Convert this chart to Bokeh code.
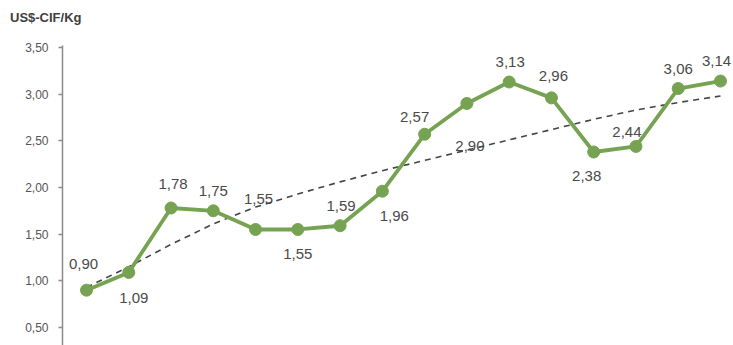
from bokeh.plotting import figure
from bokeh.layouts import column
from bokeh.models import ColumnDataSource, Range1d, FixedTicker, CustomJSTickFormatter, Div
from bokeh.embed import file_html
from bokeh.resources import INLINE
from bokeh.core.properties import value

# ---- data ----
periods = list(range(16))
prices = [0.90, 1.09, 1.78, 1.75, 1.55, 1.55, 1.59, 1.96, 2.57, 2.90, 3.13, 2.96, 2.38, 2.44, 3.06, 3.14]
price_labels = ["0,90", "1,09", "1,78", "1,75", "1,55", "1,55", "1,59", "1,96",
                "2,57", "2,90", "3,13", "2,96", "2,38", "2,44", "3,06", "3,14"]
# dashed trend line at each period
trend = [0.93, 1.15, 1.39, 1.61, 1.79, 1.93, 2.06, 2.18, 2.29, 2.40, 2.51, 2.62, 2.73, 2.83, 2.91, 2.98]
y_ticks = [0.5, 1.0, 1.5, 2.0, 2.5, 3.0, 3.5]
unit_title = "US$-CIF/Kg"

# label placement (pixels, layout only; positive = up)
lab_dx = [-3, 5, 2, 0, 3, 0, 1, 12, -10, 3, 1, 2, -7, -9, 0, -4]
lab_dy = [26, -26, 24, 20, 30, -25, 20, -25, 17, -43, 20, 22, -24, 14, 20, 20]

GREEN = "#76a352"

head = Div(text=unit_title, width=733, height=35, margin=(0, 0, 0, 0),
           styles={"font-family": "Liberation Sans", "font-size": "13px", "font-weight": "bold",
                   "color": "#404040", "padding-left": "10px", "padding-top": "10px",
                   "line-height": "15px"})

p = figure(width=733, height=310, output_backend="svg", toolbar_location=None,
           x_range=Range1d(-0.568, 15.308), y_range=Range1d(0.307, 3.521),
           min_border_left=62, min_border_right=0, min_border_top=10, min_border_bottom=0,
           margin=(0, 0, 0, 0))
p.outline_line_color = None
p.xgrid.visible = False
p.ygrid.visible = False
p.xaxis.visible = False
p.background_fill_color = "white"
p.border_fill_color = "white"

ax = p.yaxis[0]
ax.ticker = FixedTicker(ticks=y_ticks)
ax.formatter = CustomJSTickFormatter(code="return tick.toFixed(2).replace('.', ',');")
ax.axis_line_color = "#8a8a8a"
ax.axis_line_width = 1.5
ax.major_tick_line_color = "#8a8a8a"
ax.major_tick_line_width = 1.5
ax.major_tick_out = 4
ax.major_tick_in = 0
ax.minor_tick_line_color = None
ax.major_label_text_font = "Liberation Sans"
ax.major_label_text_font_size = "12px"
ax.major_label_text_color = "#555555"
ax.major_label_standoff = 10

src = ColumnDataSource(dict(x=periods, y=prices, t=trend, lab=price_labels,
                            dx=lab_dx, dy=[-d for d in lab_dy]))

p.line("x", "t", source=src, line_color="#444444", line_width=1.6, line_dash="6 5")
p.line("x", "y", source=src, line_color=GREEN, line_width=3.8)
p.scatter("x", "y", source=src, size=12, fill_color=GREEN, line_color=GREEN)

p.text("x", "y", text="lab", source=src, x_offset="dx", y_offset="dy",
       text_align="center", text_baseline="middle",
       text_font=value("Liberation Sans"), text_font_size="15px", text_color="#4a4a4a")

layout = column(head, p, spacing=0, margin=(0, 0, 0, 0))
open("out.html", "w").write(file_html(layout, INLINE))
